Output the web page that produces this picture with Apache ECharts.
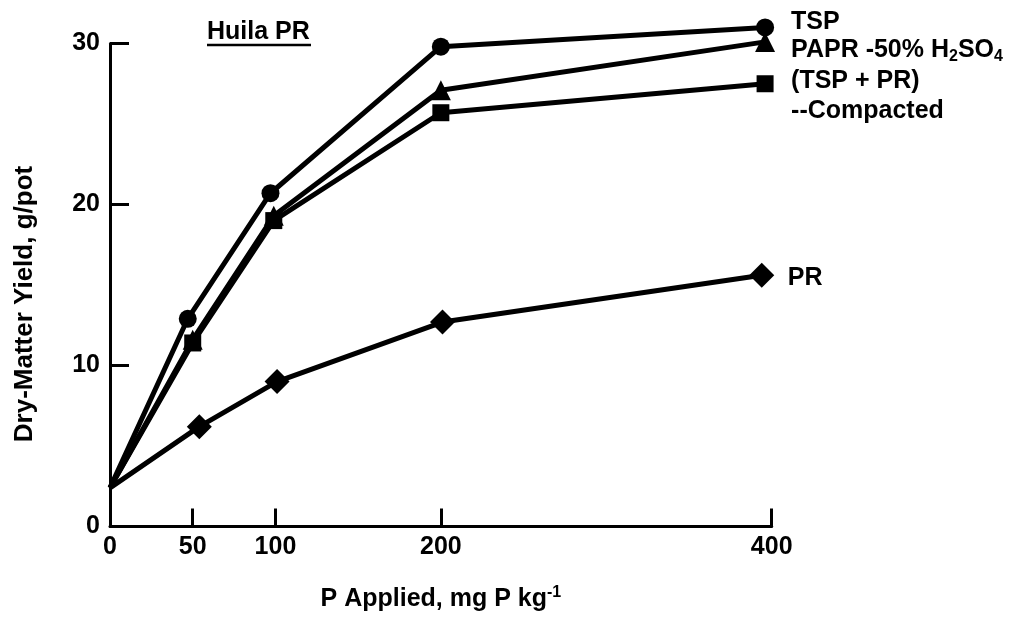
<!DOCTYPE html>
<html>
<head>
<meta charset="utf-8">
<script src="https://cdn.jsdelivr.net/npm/echarts@6/dist/echarts.min.js"></script>
<style>
html,body{margin:0;padding:0;background:#fff;}
#chart{width:1022px;height:617px;}
</style>
</head>
<body>
<div id="chart"></div>
<script>
// ---- data ----
const xTicks = [0, 50, 100, 200, 400];
const yTicks = [0, 10, 20, 30];

const xTSP = [0, 47, 97, 200, 396];
const yTSP = [2.4, 12.9, 20.7, 29.8, 31.0];

const xPAPR = [0, 50, 99, 200, 396];
const yPAPR = [2.4, 11.6, 19.3, 27.1, 30.1];

const xCompacted = [0, 50, 99, 200, 396];
const yCompacted = [2.4, 11.4, 19.0, 25.7, 27.5];

const xPR = [0, 54, 101, 201, 394];
const yPR = [2.4, 6.2, 9.0, 12.7, 15.6];

const FONT = "'Liberation Sans', Arial, Helvetica, sans-serif";
const FS = 25;
// first point (x = 0) is drawn without a marker, as in the reference
const pair = (xs, ys) => xs.map((x, i) => i === 0 ? { value: [x, ys[i]], symbol: 'none' } : [x, ys[i]]);

function mkSeries(name, xs, ys, symbol, size, labelFmt, offset) {
  return {
    name: name,
    type: 'line',
    data: pair(xs, ys),
    symbol: symbol,
    symbolSize: size,
    clip: false,
    lineStyle: { color: '#000', width: 5 },
    itemStyle: { color: '#000' },
    endLabel: {
      show: true,
      formatter: labelFmt,
      distance: 26,
      offset: offset,
      color: '#000',
      fontFamily: FONT,
      fontWeight: 'bold',
      fontSize: FS,
      align: 'left',
      rich: {
        a: { fontFamily: FONT, fontWeight: 'bold', fontSize: FS, lineHeight: 30, color: '#000' },
        b: { fontFamily: FONT, fontWeight: 'bold', fontSize: 16, lineHeight: 14, verticalAlign: 'bottom', color: '#000' }
      }
    }
  };
}

const chart = echarts.init(document.getElementById('chart'), null, { renderer: 'canvas' });
chart.setOption({
  animation: false,
  backgroundColor: '#fff',
  title: {
    text: 'Huila PR',
    left: 207,
    top: 20,
    padding: 0,
    textStyle: { fontFamily: FONT, fontWeight: 'bold', fontSize: FS, color: '#000' }
  },
  graphic: [
    { type: 'line', shape: { x1: 207, y1: 45, x2: 311, y2: 45 }, style: { stroke: '#000', lineWidth: 2.5 } }
  ],
  grid: { left: 110, top: 43.5, right: 250.3, bottom: 89 },
  xAxis: {
    type: 'value',
    min: 0, max: 400, interval: 50,
    name: '{a|P Applied, mg P kg}{s|-1}',
    nameLocation: 'middle',
    nameGap: 58,
    nameTextStyle: {
      rich: {
        a: { fontFamily: FONT, fontWeight: 'bold', fontSize: FS, lineHeight: 30, color: '#000' },
        s: { fontFamily: FONT, fontWeight: 'bold', fontSize: 16, lineHeight: 14, verticalAlign: 'top', color: '#000' }
      }
    },
    axisLine: { show: true, lineStyle: { color: '#000', width: 3 } },
    axisTick: { show: true, inside: true, length: 18, lineStyle: { color: '#000', width: 3 }, customValues: [50, 100, 200, 400] },
    axisLabel: { customValues: xTicks, color: '#000', fontFamily: FONT, fontWeight: 'bold', fontSize: FS, margin: 8 },
    splitLine: { show: false }
  },
  yAxis: {
    type: 'value',
    min: 0, max: 30, interval: 10,
    name: 'Dry-Matter Yield, g/pot',
    nameLocation: 'middle',
    nameGap: 72,
    nameTextStyle: { fontFamily: FONT, fontWeight: 'bold', fontSize: 26, color: '#000', padding: [0, 38, 0, 0] },
    axisLine: { show: true, lineStyle: { color: '#000', width: 3 } },
    axisTick: { show: true, inside: true, length: 19, lineStyle: { color: '#000', width: 3 }, customValues: [10, 20, 30] },
    axisLabel: { customValues: yTicks, color: '#000', fontFamily: FONT, fontWeight: 'bold', fontSize: FS, margin: 10 },
    splitLine: { show: false }
  },
  series: [
    mkSeries('PR', xPR, yPR, 'diamond', 25, '{a|PR}', [0, 3]),
    mkSeries('(TSP + PR) --Compacted', xCompacted, yCompacted, 'rect', 17, '{a|(TSP + PR)}\n{a|--Compacted}', [0, 12]),
    mkSeries('PAPR -50% H2SO4', xPAPR, yPAPR, 'triangle', 20, '{a|PAPR -50% H}{b|2}{a|SO}{b|4}', [0, 8]),
    mkSeries('TSP', xTSP, yTSP, 'circle', 18, '{a|TSP}', [0, -5])
  ]
});
</script>
</body>
</html>
